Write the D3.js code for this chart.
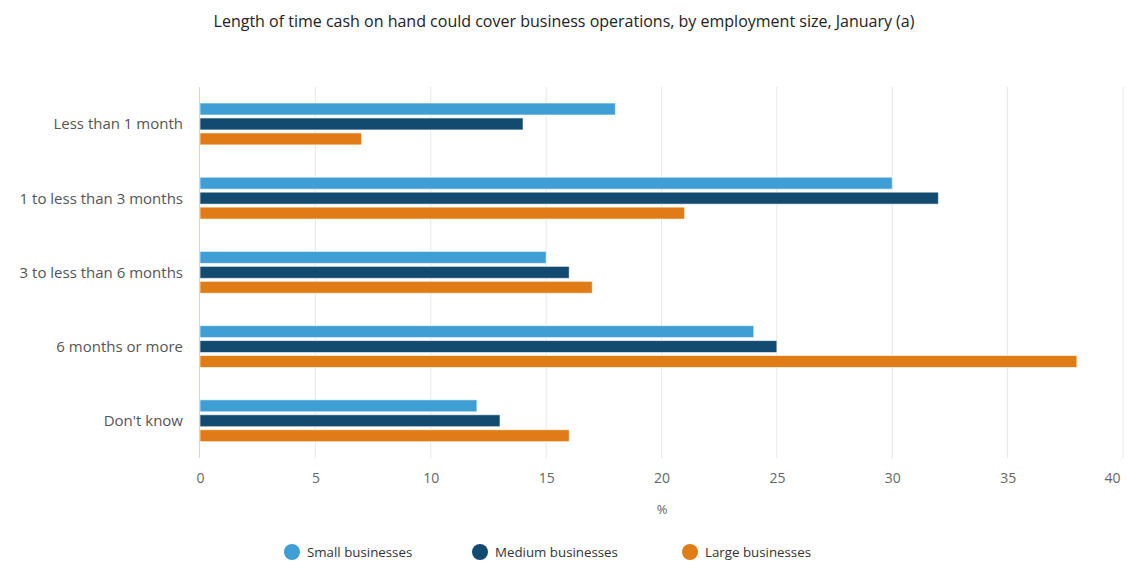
<!DOCTYPE html>
<html>
<head>
<meta charset="utf-8">
<script src="https://cdn.jsdelivr.net/npm/d3@7"></script>
<style>
  html, body { margin: 0; padding: 0; background: #fff; }
  svg { display: block; font-family: "Open Sans", "Noto Sans", sans-serif; }
</style>
</head>
<body>
<svg id="chart" width="1127" height="563"></svg>
<script>
// Cash-on-hand coverage by business size (% of businesses)
const categories = ["Less than 1 month", "1 to less than 3 months", "3 to less than 6 months", "6 months or more", "Don't know"];
const seriesNames = ["Small businesses", "Medium businesses", "Large businesses"];
const smallValues = [18, 30, 15, 24, 12];
const mediumValues = [14, 32, 16, 25, 13];
const largeValues = [7, 21, 17, 38, 16];
const xTicks = [0, 5, 10, 15, 20, 25, 30, 35, 40];
const colors = ["#3f9fd4", "#134a6f", "#e07c15"];

const seriesValues = [smallValues, mediumValues, largeValues];

const svg = d3.select("#chart");
const margin = { left: 200, right: 4, top: 87, bottom: 105 };
const W = 1127, H = 563;

const x = d3.scaleLinear().domain([0, 40]).range([margin.left, W - margin.right]);
const y = d3.scaleBand().domain(categories).range([margin.top, H - margin.bottom]);
const inner = d3.scaleBand().domain(seriesNames)
  .range([y.bandwidth() * 0.216, y.bandwidth() * 0.78]).paddingInner(0.2);

// Title
svg.append("text")
  .attr("x", 564).attr("y", 27)
  .attr("text-anchor", "middle")
  .attr("font-size", 16)
  .attr("fill", "#222")
  .text("Length of time cash on hand could cover business operations, by employment size, January (a)");

// Vertical grid lines
svg.append("g").selectAll("line")
  .data(xTicks.filter(d => d > 0))
  .join("line")
  .attr("x1", d => x(d)).attr("x2", d => x(d))
  .attr("y1", margin.top).attr("y2", H - margin.bottom)
  .attr("stroke", "#e6e6e6").attr("stroke-width", 1);

// Bars
const groups = svg.append("g").selectAll("g")
  .data(categories)
  .join("g")
  .attr("transform", c => `translate(0,${y(c)})`);

groups.selectAll("rect")
  .data((c, i) => seriesNames.map((s, j) => ({ s, j, v: seriesValues[j][i] })))
  .join("rect")
  .attr("x", x(0))
  .attr("y", d => inner(d.s))
  .attr("width", d => x(d.v) - x(0))
  .attr("height", inner.bandwidth())
  .attr("fill", d => colors[d.j])
  .attr("stroke", "#ffffff")
  .attr("stroke-opacity", 0.6)
  .attr("stroke-width", 1);

// Category axis line
svg.append("line")
  .attr("x1", x(0) - 0.5).attr("x2", x(0) - 0.5)
  .attr("y1", margin.top).attr("y2", H - margin.bottom)
  .attr("stroke", "#ccd6eb").attr("stroke-width", 1);

// Category labels
svg.append("g").selectAll("text")
  .data(categories)
  .join("text")
  .attr("x", 183)
  .attr("y", c => y(c) + y.bandwidth() / 2)
  .attr("dy", "0.35em")
  .attr("text-anchor", "end")
  .attr("font-size", 15)
  .attr("fill", "#555")
  .text(c => c);

// Value axis
const xAxis = d3.axisBottom(x).tickValues(xTicks).tickSize(0).tickPadding(15);
const gx = svg.append("g")
  .attr("transform", `translate(0,${H - margin.bottom})`)
  .call(xAxis);
gx.select(".domain").remove();
gx.selectAll("text")
  .attr("font-size", 14)
  .attr("font-family", "\"Open Sans\", \"Noto Sans\", sans-serif")
  .attr("fill", "#666");
// keep the last tick label inside the chart
gx.selectAll(".tick").filter(d => d === 40).select("text")
  .attr("text-anchor", "end").attr("x", -3);

svg.append("text")
  .attr("x", 662).attr("y", 514)
  .attr("text-anchor", "middle")
  .attr("font-size", 13)
  .attr("fill", "#666")
  .text("%");

// Legend
const legendX = [292, 480, 690];
const legend = svg.append("g").selectAll("g")
  .data(seriesNames)
  .join("g")
  .attr("transform", (d, i) => `translate(${legendX[i]},552)`);
legend.append("circle").attr("r", 8).attr("fill", (d, i) => colors[i]);
legend.append("text")
  .attr("x", 15).attr("dy", "0.4em")
  .attr("font-size", 13.3)
  .attr("fill", "#333")
  .text(d => d);
</script>
</body>
</html>
